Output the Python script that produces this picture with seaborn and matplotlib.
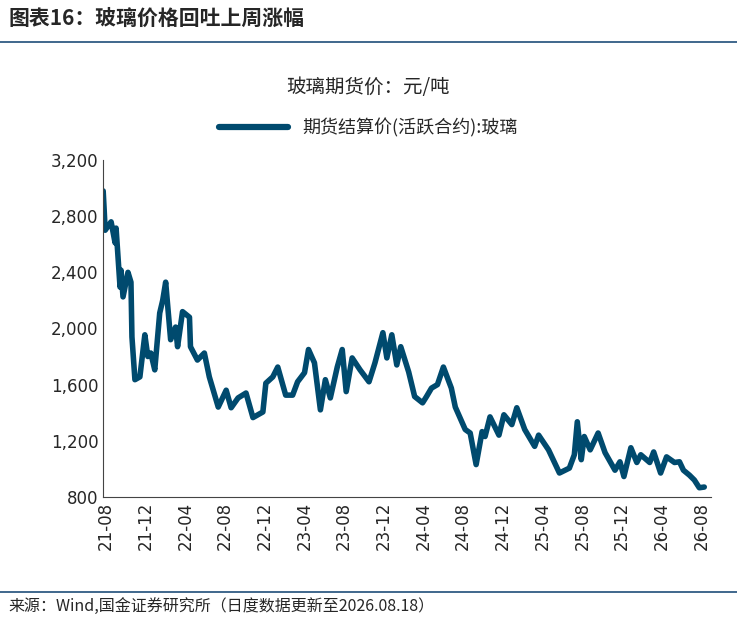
import matplotlib
matplotlib.use("Agg")
import matplotlib.pyplot as plt
import seaborn as sns
import pandas as pd
from matplotlib.lines import Line2D

sns.set_style("white")
plt.rcParams['font.family'] = ['Noto Sans CJK SC', 'DejaVu Sans']

# months since 2021-08
month_offset = [-0.3,-0.2,-0.1,0.5,0.9,1.0,1.4,1.5,1.7,2.2,2.5,2.6,2.9,3.4,3.9,4.2,4.5,4.9,5.4,5.7,6.0,6.5,7.0,7.2,7.7,8.4,8.5,9.2,9.9,10.4,
    11.3,12.1,12.6,13.3,14.1,14.8,15.8,16.1,16.8,17.3,18.1,18.8,19.3,20.0,20.4,21.0,21.6,22.1,22.6,23.3,23.8,24.2,24.8,25.6,26.5,27.1,27.9,28.3,28.8,29.3,29.7,
    30.5,31.1,31.9,32.3,32.8,33.4,34.0,34.8,35.2,36.2,36.7,37.3,37.9,38.2,38.7,39.6,40.1,40.9,41.4,42.2,43.2,43.6,44.6,45.7,46.7,47.2,47.5,47.9,48.2,48.8,
    49.6,50.3,51.3,51.8,52.2,52.9,53.5,53.9,54.8,55.2,55.9,56.5,57.3,57.8,58.2,58.8,59.3,59.8,60.3]
price = [2980,2845,2700,2760,2610,2715,2295,2415,2225,2400,2330,1940,1635,1655,1955,1800,1825,1705,2110,2200,2330,1920,2010,1870,2120,2080,1870,1775,1825,1655,
    1440,1560,1435,1505,1540,1365,1405,1610,1655,1725,1525,1525,1620,1685,1850,1755,1420,1635,1505,1725,1850,1550,1790,1705,1620,1755,1970,1790,1955,1740,1870,
    1690,1515,1470,1515,1575,1600,1725,1575,1440,1280,1255,1030,1265,1230,1370,1240,1385,1315,1435,1280,1160,1240,1135,970,1005,1100,1335,1065,1230,1135,
    1255,1115,990,1050,945,1150,1045,1100,1045,1120,970,1085,1045,1050,990,955,920,865,870]
tick_labels = ["21-08","21-12","22-04","22-08","22-12","23-04","23-08","23-12","24-04","24-08","24-12","25-04","25-08","25-12","26-04","26-08"]
y_ticks = [800,1200,1600,2000,2400,2800,3200]

df = pd.DataFrame({"m": month_offset, "v": price})
color = "#004A6E"

fig = plt.figure(figsize=(7.37, 6.18), dpi=100)
ax = fig.add_axes([0.14, 0.196, 0.825, 0.545])
sns.lineplot(data=df, x="m", y="v", ax=ax, color=color, linewidth=4)
ax.set_xlim(-0.3, 61)
ax.set_ylim(800, 3200)
ax.set_yticks(y_ticks)
ax.set_yticklabels([f"{t:,}" for t in y_ticks], fontsize=12, family="DejaVu Sans")
ax.set_xticks([4*i for i in range(len(tick_labels))])
ax.set_xticklabels(tick_labels, rotation=90, fontsize=12, family="DejaVu Sans")
ax.set_xlabel(""); ax.set_ylabel("")
for s in ["top", "right"]:
    ax.spines[s].set_visible(False)
for s in ["left", "bottom"]:
    ax.spines[s].set_color("#444444")
ax.tick_params(axis="both", direction="in", length=5, color="#444444")

fig.text(0.5, 1-88/618, "玻璃期货价：元/吨", ha="center", va="center", fontsize=14)
h = Line2D([], [], color=color, linewidth=4.5)
fig.legend([h], ["期货结算价(活跃合约):玻璃"], loc="center", bbox_to_anchor=(0.5, 1-128/618),
           frameon=False, fontsize=13, handlelength=3.8)

fig.text(0.012, 1-18/618, "图表16：玻璃价格回吐上周涨幅", ha="left", va="center", fontsize=15,
         fontweight="bold", style="italic")
fig.add_artist(Line2D([0, 1], [1-42/618]*2, color="#1F4E79", linewidth=1.2))
fig.add_artist(Line2D([0, 1], [1-592/618]*2, color="#1F4E79", linewidth=1.2))
fig.text(0.012, 1-606/618, "来源：Wind,国金证券研究所（日度数据更新至2026.08.18）", ha="left", va="center", fontsize=11.5)

fig.savefig("out.png", dpi=100)
